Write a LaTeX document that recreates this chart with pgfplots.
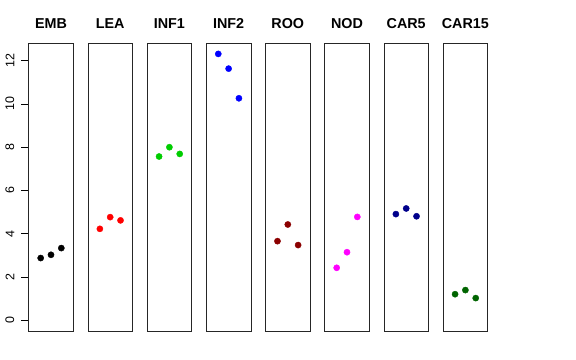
\documentclass[border=0pt]{standalone}
\usepackage{pgfplots}
\pgfplotsset{compat=1.18}
\usepackage{fontspec}
\setmainfont{Liberation Sans}
\definecolor{rgreen}{HTML}{00CD00}
\definecolor{rred}{HTML}{FF0000}
\definecolor{rblue}{HTML}{0000FF}
\definecolor{rmagenta}{HTML}{FF00FF}
\definecolor{rdarkred}{HTML}{8B0000}
\definecolor{rdarkblue}{HTML}{00008B}
\definecolor{rdarkgreen}{HTML}{006400}
\pgfplotsset{
  panel/.style={
    scale only axis, width=44.6bp, height=287.7bp,
    xmin=-0.16, xmax=4.16, ymin=-0.49, ymax=12.8,
    xtick=\empty, ytick=\empty, anchor=south west,
    axis line style={black!85, line width=0.75bp},
    title style={at={(0.5,1)}, anchor=base, yshift=9bp, inner sep=0pt,
      font=\fontsize{14.4}{17}\selectfont\bfseries},
  },
  pts/.style={only marks, mark=*, mark size=3.1bp, color=#1, mark options={draw=#1, fill=#1}},
}
\begin{document}
\begin{tikzpicture}
\path[use as bounding box] (0,0) rectangle (576bp,360bp);
\begin{axis}[panel, at={(28.7bp,29bp)}, title={EMB},
  ytick={0,2,...,12}, ytick pos=left, tick align=outside, major tick length=7.2bp,
  tick style={black, line width=0.75bp},
  /pgf/number format/assume math mode=true,
  yticklabel style={rotate=90, anchor=south, inner xsep=0pt, inner ysep=0pt, yshift=7bp, font=\fontsize{12.5}{14}\selectfont}]
\addplot[pts=black] coordinates {(1,2.88) (2,3.03) (3,3.34)};
\end{axis}
\begin{axis}[panel, at={(87.9bp,29bp)}, title={LEA}]
\addplot[pts=rred] coordinates {(1,4.23) (2,4.77) (3,4.62)};
\end{axis}
\begin{axis}[panel, at={(147.1bp,29bp)}, title={INF1}]
\addplot[pts=rgreen] coordinates {(1,7.57) (2,8.00) (3,7.69)};
\end{axis}
\begin{axis}[panel, at={(206.3bp,29bp)}, title={INF2}]
\addplot[pts=rblue] coordinates {(1,12.31) (2,11.63) (3,10.26)};
\end{axis}
\begin{axis}[panel, at={(265.5bp,29bp)}, title={ROO}]
\addplot[pts=rdarkred] coordinates {(1,3.66) (2,4.43) (3,3.48)};
\end{axis}
\begin{axis}[panel, at={(324.7bp,29bp)}, title={NOD}]
\addplot[pts=rmagenta] coordinates {(1,2.43) (2,3.15) (3,4.78)};
\end{axis}
\begin{axis}[panel, at={(383.9bp,29bp)}, title={CAR5}]
\addplot[pts=rdarkblue] coordinates {(1,4.91) (2,5.17) (3,4.81)};
\end{axis}
\begin{axis}[panel, at={(443.1bp,29bp)}, title={CAR15}]
\addplot[pts=rdarkgreen] coordinates {(1,1.21) (2,1.40) (3,1.03)};
\end{axis}
\end{tikzpicture}
\end{document}
